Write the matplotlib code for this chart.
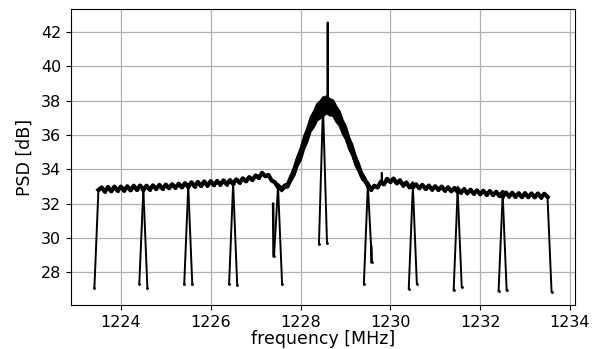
import numpy as np
import matplotlib
matplotlib.use("Agg")
import matplotlib.pyplot as plt

# --- data ---------------------------------------------------------------
seg_centers = [1224, 1225, 1226, 1227, 1228, 1229, 1230, 1231, 1232, 1233]  # MHz
plateau_offsets = np.linspace(-0.5, 0.5, 15)  # MHz offsets of plateau samples

psd_1224 = [32.80, 32.95, 32.70, 32.98, 32.72, 33.00, 32.75, 33.00, 32.76, 33.02, 32.78, 33.05, 32.80, 33.06, 32.85]
psd_1225 = [32.80, 33.05, 32.82, 33.07, 32.85, 33.10, 32.86, 33.12, 32.90, 33.14, 32.92, 33.17, 32.95, 33.20, 33.00]
psd_1226 = [33.00, 33.25, 33.00, 33.27, 33.03, 33.30, 33.05, 33.32, 33.08, 33.33, 33.10, 33.36, 33.12, 33.38, 33.15]
psd_1227 = [33.20, 33.42, 33.22, 33.48, 33.30, 33.55, 33.38, 33.65, 33.50, 33.80, 33.60, 33.68, 33.35, 33.25, 32.95]
psd_1228 = [33.05, 32.85, 33.05, 33.10, 33.55, 33.95, 34.55, 34.95, 35.60, 36.05, 36.65, 36.95, 37.35, 37.50, 37.75]
psd_1229 = [37.65, 37.80, 37.65, 37.60, 37.25, 37.00, 36.50, 36.15, 35.55, 35.15, 34.55, 34.15, 33.65, 33.40, 33.05]
psd_1230 = [33.15, 32.80, 33.05, 32.95, 33.27, 33.13, 33.45, 33.26, 33.47, 33.18, 33.37, 33.06, 33.24, 32.95, 33.15]
psd_1231 = [32.95, 33.13, 32.90, 33.10, 32.86, 33.06, 32.82, 33.02, 32.80, 33.00, 32.76, 32.96, 32.72, 32.92, 32.68]
psd_1232 = [32.88, 32.64, 32.86, 32.60, 32.82, 32.58, 32.78, 32.55, 32.76, 32.52, 32.74, 32.50, 32.70, 32.46, 32.66]
psd_1233 = [32.42, 32.66, 32.42, 32.64, 32.40, 32.62, 32.38, 32.62, 32.38, 32.60, 32.37, 32.60, 32.36, 32.58, 32.40]
plateaus = [psd_1224, psd_1225, psd_1226, psd_1227, psd_1228,
            psd_1229, psd_1230, psd_1231, psd_1232, psd_1233]

# noise spread (half width, dB) of the trace around the central peak
spread_1228 = [0.10, 0.10, 0.10, 0.12, 0.18, 0.25, 0.30, 0.35, 0.38, 0.40, 0.42, 0.45, 0.48, 0.50, 0.50]
spread_1229 = [0.50, 0.50, 0.48, 0.45, 0.45, 0.42, 0.40, 0.38, 0.35, 0.32, 0.30, 0.25, 0.20, 0.15, 0.10]
spread_centers = [1228, 1229]
spreads = [spread_1228, spread_1229]

edge_offset = 0.59  # MHz, where each segment's roll-off bottoms out
rise_low = [27.10, 27.35, 27.30, 27.35, 28.95, 29.65, 27.30, 27.05, 26.95, 26.90]
fall_low = [27.10, 27.30, 27.25, 27.30, 29.70, 28.60, 27.35, 27.15, 26.95, 26.88]

# narrow spikes / short strokes
spike_f = [[1228.600, 1228.605, 1228.610], [1229.805, 1229.810, 1229.815]]
spike_psd = [[37.90, 42.56, 37.90], [33.20, 33.80, 33.20]]
stub_f = [[1227.390, 1227.400], [1229.575, 1229.580]]
stub_psd = [[32.00, 28.95], [29.50, 28.60]]

# --- figure --------------------------------------------------------------
fig = plt.figure(figsize=(6.02, 3.49), dpi=100)
ax = fig.add_axes([0.118, 0.126, 0.837, 0.848])

for c, plat, lo_l, lo_r in zip(seg_centers, plateaus, rise_low, fall_low):
    f_plat = c + plateau_offsets
    f_all = np.concatenate([[c - edge_offset], f_plat, [c + edge_offset]])
    p_all = np.concatenate([[lo_l], plat, [lo_r]])
    ax.plot(f_all, p_all, color="black", lw=1.4, marker=".", ms=2.0)
    ax.plot(f_plat, plat, color="black", lw=3.0, solid_joinstyle="round")

for c, spr in zip(spread_centers, spreads):
    plat = np.asarray(plateaus[seg_centers.index(c)])
    spr = np.asarray(spr)
    ax.fill_between(c + plateau_offsets, plat - spr, plat + spr,
                    color="black", lw=1.5, edgecolor="black")

for fs, ps in zip(spike_f, spike_psd):
    ax.plot(fs, ps, color="black", lw=1.4)
for fs, ps in zip(stub_f, stub_psd):
    ax.plot(fs, ps, color="black", lw=1.8)

ax.set_xticks([1224, 1226, 1228, 1230, 1232, 1234])
ax.set_yticks([28, 30, 32, 34, 36, 38, 40, 42])
ax.set_xlim(1222.89, 1234.11)
ax.set_ylim(26.10, 43.34)
ax.grid(True, color="#b0b0b0", lw=0.9)
ax.set_axisbelow(True)
ax.tick_params(labelsize=11.5)
ax.set_xlabel("frequency [MHz]", fontsize=12.5, labelpad=0)
ax.set_ylabel("PSD [dB]", fontsize=12.5, labelpad=5)

fig.savefig("out.png", dpi=100)
